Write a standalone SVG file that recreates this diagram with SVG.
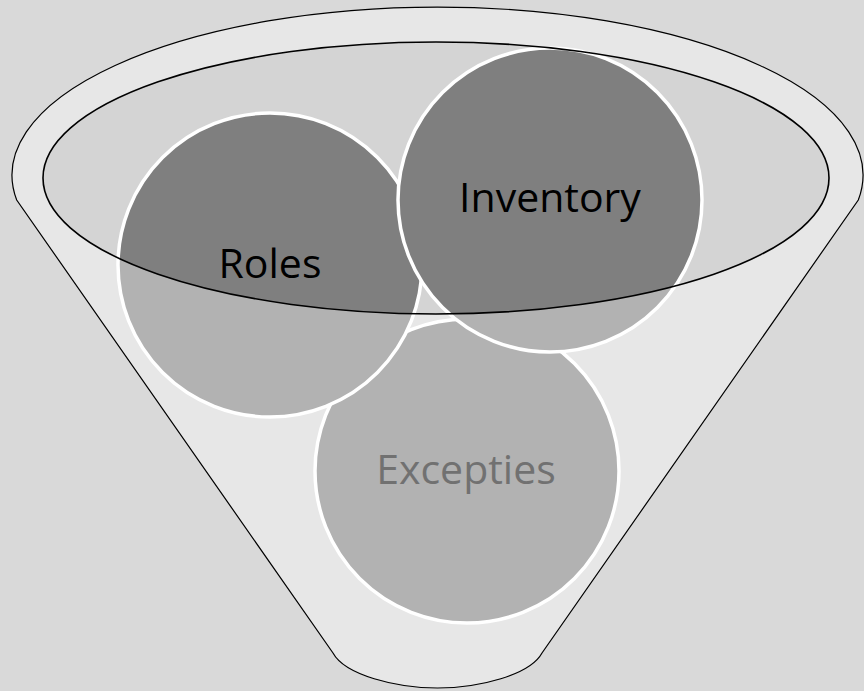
<svg xmlns="http://www.w3.org/2000/svg" width="864" height="691" viewBox="0 0 864 691">
<defs>
<style>
.light{fill:#b2b2b2;}
.dark{fill:#7f7f7f;}
.ring{fill:none;stroke:#ffffff;stroke-width:3.5;}
.lbl{font-family:"Open Sans","Liberation Sans",sans-serif;font-size:41px;text-anchor:middle;}
</style>
<clipPath id="rim"><ellipse cx="436" cy="178" rx="393" ry="136"/></clipPath>
</defs>
<rect width="864" height="691" fill="#d9d9d9"/>
<g id="funnel">
<path d="M16.7 200 A425.5 168 0 1 1 858.3 200 L542 653 C530 675 479 688 437.5 688 C396 688 345 675 333 653 Z" fill="#e7e7e7" stroke="#000" stroke-width="1.2"/>
<ellipse cx="436" cy="178" rx="393" ry="136" fill="#d4d4d4"/>
</g>
<g id="excepties">
<circle class="light" cx="467" cy="471" r="152"/>
<circle class="ring" cx="467" cy="471" r="152"/>
</g>
<g id="roles">
<circle class="light" cx="270" cy="265" r="152"/>
<circle class="dark" cx="270" cy="265" r="152" clip-path="url(#rim)"/>
<circle class="ring" cx="270" cy="265" r="152"/>
</g>
<g id="inventory">
<circle class="light" cx="550" cy="200" r="152"/>
<circle class="dark" cx="550" cy="200" r="152" clip-path="url(#rim)"/>
<circle class="ring" cx="550" cy="200" r="152"/>
</g>
<g id="rim-outline">
<ellipse cx="436" cy="178" rx="393" ry="136" fill="none" stroke="#000" stroke-width="1.6"/>
</g>
<g id="labels">
<text class="lbl" x="270" y="278" fill="#000">Roles</text>
<text class="lbl" x="550" y="212" fill="#000">Inventory</text>
<text class="lbl" x="466" y="484" fill="#717171">Excepties</text>
</g>
</svg>
